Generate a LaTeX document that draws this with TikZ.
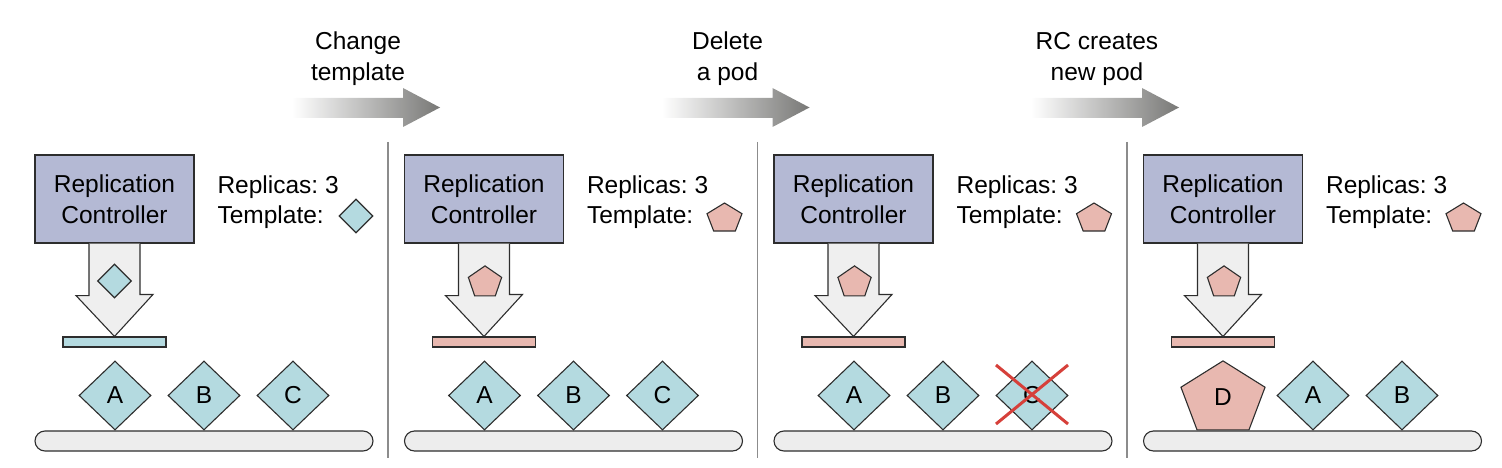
\documentclass[tikz,border=0pt]{standalone}
\usepackage{fontspec}
\setmainfont{Liberation Sans}
\usetikzlibrary{shapes.geometric}
\frenchspacing

\definecolor{rcfill}{RGB}{180,185,212}
\definecolor{podblue}{RGB}{180,218,224}
\definecolor{podpink}{RGB}{232,184,176}
\definecolor{arrowfill}{RGB}{239,239,239}
\definecolor{groundfill}{RGB}{237,237,237}
\definecolor{linegray}{RGB}{45,45,45}
\definecolor{divgray}{RGB}{140,140,140}
\definecolor{crossred}{RGB}{214,64,58}
\definecolor{arrowgray}{RGB}{120,120,118}

% pentagon squashed to rx, ry round a named coordinate
\newcommand{\pentpath}[4]{\draw[#1] ([shift={(90:#3pt and #4pt)}]#2) -- ([shift={(162:#3pt and #4pt)}]#2) -- ([shift={(234:#3pt and #4pt)}]#2) -- ([shift={(306:#3pt and #4pt)}]#2) -- ([shift={(18:#3pt and #4pt)}]#2) -- cycle;}

\begin{document}
\begin{tikzpicture}[x=1pt,y=-1pt,line width=1.1pt,font=\fontsize{24.5}{31}\selectfont]
    \tikzstyle{rc}=[rectangle, draw=linegray, fill=rcfill, minimum width=159pt, minimum height=88pt, align=center, inner sep=0pt]
    \tikzstyle{pod}=[diamond, draw=linegray, fill=podblue, minimum width=72pt, minimum height=69pt, inner sep=0pt]
    \tikzstyle{tmpl}=[diamond, draw=linegray, fill=podblue, minimum width=34pt, minimum height=34pt, inner sep=0pt]
    \tikzstyle{tbar}=[rectangle, draw=linegray, minimum width=103pt, minimum height=10pt, inner sep=0pt]
    \tikzstyle{ground}=[rectangle, rounded corners=10pt, draw=linegray, fill=groundfill, minimum width=338pt, minimum height=20pt, inner sep=0pt]
    \tikzstyle{txt}=[anchor=base west, inner sep=0pt]
    \tikzstyle{downarrow}=[draw=linegray, fill=arrowfill, line join=miter]
    \tikzstyle{pink}=[draw=linegray, fill=podpink]
    \tikzstyle{divider}=[draw=divgray, line width=1.3pt]
    \tikzstyle{cross}=[draw=crossred, line width=3pt]

    \useasboundingbox (0,0) rectangle (1502,468);

    % arrows between the steps
    \foreach \k/\la/\lb in {0/Change/template, 1/Delete/a pod, 2/RC creates/new pod}{
        \begin{scope}[xshift=\k*369.5pt]
            \shade[left color=white, right color=arrowgray] (292,98) -- (403,98) -- (403,88) -- (440,107.5) -- (403,127) -- (403,118) -- (292,118) -- cycle;
            \node[anchor=base] (up\k) at (358,49.5) {\la};
            \node[anchor=base] (lo\k) at (358,80.5) {\lb};
        \end{scope}
    }

    \foreach \x in {388,757.5,1127}
        \draw[divider] (\x,142) -- (\x,458);

    % the four panels
    \foreach \i/\col in {0/podblue, 1/podpink, 2/podpink, 3/podpink}{
        \begin{scope}[xshift=\i*369.5pt]
            \node[rc] (rc\i) at (114.5,199) {Replication\\Controller};
            \node[txt] (rep\i) at (217,193.5) {Replicas: 3};
            \node[txt] (tpl\i) at (217,223.5) {Template:};
            \node[tbar, fill=\col] (bar\i) at (114.5,342) {};
            \draw[downarrow] ([xshift=-25.5pt]rc\i.south) -- ++(0,52) -- ++(-13,0) -- (bar\i.north)
                -- ++(38.5,-42) -- ++(-13,0) -- ([xshift=25.5pt]rc\i.south);
            \node[ground] (gr\i) at (204,441) {};
        \end{scope}
    }

    % template shapes
    \node[tmpl] (inner0) at (114.5,281) {};
    \node[tmpl] (tsym0) at (356,216) {};
    \foreach \i in {1,2,3}{
        \begin{scope}[xshift=\i*369.5pt]
            \coordinate (inner\i) at (115.5,282.5);
            \coordinate (tsym\i) at (355,218.5);
            \pentpath{pink}{inner\i}{17.5}{16.6}
            \pentpath{pink}{tsym\i}{18.4}{15.5}
        \end{scope}
    }

    % pods
    \foreach \i in {0,1,2}{
        \begin{scope}[xshift=\i*369.5pt]
            \node[pod] (a\i) at (115,395.5) {A};
            \node[pod] (b\i) at (204,395.5) {B};
            \node[pod] (c\i) at (293,395.5) {C};
        \end{scope}
    }
    \draw[cross] (c2.center) ++(-36,-30.5) -- ++(72,59);
    \draw[cross] (c2.center) ++(36,-30.5) -- ++(-72,59);

    \begin{scope}[xshift=3*369.5pt]
        \coordinate (d3) at (114.5,399);
        \pentpath{pink}{d3}{44.2}{38.1}
        \node (dlab) at (114.5,397) {D};
        \node[pod] (a3) at (204.5,395.5) {A};
        \node[pod] (b3) at (293.5,395.5) {B};
    \end{scope}
\end{tikzpicture}
\end{document}
